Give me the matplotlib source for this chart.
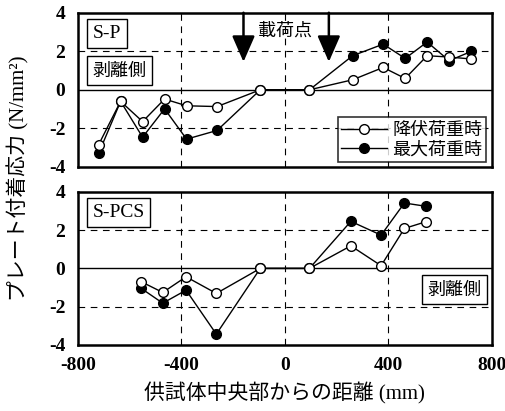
import numpy as np
import matplotlib
matplotlib.use('Agg')
import matplotlib.pyplot as plt

plt.rcParams['font.family'] = ['Liberation Serif', 'Noto Sans CJK JP']
plt.rcParams['axes.unicode_minus'] = False
jp = ['Noto Sans CJK JP', 'DejaVu Sans']
mix = ['Liberation Serif', 'Noto Sans CJK JP']

# S-P panel
x_sp = [-720, -635, -550, -465, -380, -262, -95, 95, 262, 380, 465, 550, 635, 720]
yield_sp = [-2.85, -0.6, -1.65, -0.48, -0.83, -0.87, 0.0, 0.0, 0.52, 1.16, 0.59, 1.77, 1.7, 1.6]
max_sp = [-3.3, -0.6, -2.46, -0.99, -2.56, -2.11, 0.0, 0.0, 1.77, 2.37, 1.63, 2.48, 1.51, 1.99]

# S-PCS panel
x_pcs = [-555, -472, -382, -265, -95, 95, 255, 372, 462, 545]
yield_pcs = [-0.7, -1.26, -0.44, -1.31, 0.0, 0.0, 1.18, 0.14, 2.09, 2.44]
max_pcs = [-1.05, -1.82, -1.14, -3.44, 0.0, 0.0, 2.46, 1.74, 3.42, 3.25]

load_x = [-160, 170]

fig = plt.figure(figsize=(5.06, 4.11), dpi=100)
ax1 = fig.add_axes([0.154, 0.594, 0.818, 0.375])
ax2 = fig.add_axes([0.154, 0.161, 0.818, 0.372])

for ax in (ax1, ax2):
    ax.set_xlim(-800, 800)
    ax.set_ylim(-4, 4)
    ax.set_xticks([-800, -400, 0, 400, 800])
    ax.set_yticks([-4, -2, 0, 2, 4])
    for v in (-400, 0, 400):
        ax.axvline(v, color='k', lw=0.8, ls=(0, (6, 5)), zorder=0)
    for v in (-2, 2):
        ax.axhline(v, color='k', lw=0.8, ls=(0, (6, 5)), zorder=0)
    ax.axhline(0, color='k', lw=1.0, zorder=0)
    for s in ax.spines.values():
        s.set_linewidth(1.8)
    ax.tick_params(length=0, labelsize=14, pad=9)
    for t in ax.get_xticklabels() + ax.get_yticklabels():
        t.set_fontweight('bold')

ax1.tick_params(labelbottom=False)

ax1.plot(x_sp, max_sp, '-o', color='k', mfc='k', mec='k', ms=7, lw=1.0,
         label='最大荷重時', zorder=3)
ax1.plot(x_sp, yield_sp, '-o', color='k', mfc='white', mec='k', ms=7, lw=1.0,
         label='降伏荷重時', zorder=4)
ax2.plot(x_pcs, max_pcs, '-o', color='k', mfc='k', mec='k', ms=7, lw=1.0, zorder=3)
ax2.plot(x_pcs, yield_pcs, '-o', color='k', mfc='white', mec='k', ms=7, lw=1.0, zorder=4)

h, l = ax1.get_legend_handles_labels()
leg = ax1.legend(h[::-1], l[::-1], loc='lower right', bbox_to_anchor=(0.985, 0.03),
                 prop={'family': jp, 'size': 13}, frameon=True, fancybox=False,
                 edgecolor='k', handlelength=2.5, handletextpad=0.3,
                 borderpad=0.2, labelspacing=0.1, borderaxespad=0)
leg.get_frame().set_linewidth(1.2)

box = dict(boxstyle='square,pad=0.3', fc='white', ec='k', lw=1.0)
ax1.text(0.035, 0.865, 'S-P', transform=ax1.transAxes, fontsize=14, va='center', bbox=box)
ax1.text(0.035, 0.625, '剥離側', transform=ax1.transAxes, fontsize=13, va='center',
         family=jp, bbox=box)
ax2.text(0.035, 0.865, 'S-PCS', transform=ax2.transAxes, fontsize=14, va='center', bbox=box)
ax2.text(0.975, 0.36, '剥離側', transform=ax2.transAxes, fontsize=13, va='center',
         ha='right', family=jp, bbox=box)

for lx in load_x:
    ax1.annotate('', xy=(lx, 1.45), xytext=(lx, 4.0),
                 arrowprops=dict(arrowstyle='-|>,head_length=1.6,head_width=0.7',
                                 color='k', lw=1.8, shrinkA=0, shrinkB=0))
ax1.text(0, 3.05, '載荷点', ha='center', va='center', fontsize=13, family=jp)

fig.text(0.036, 0.567, 'プレート付着応力 (N/mm²)', rotation=90, ha='center',
         va='center', fontsize=15, family=mix)
ax2.set_xlabel('供試体中央部からの距離 (mm)', fontsize=15, family=mix, labelpad=6)

fig.savefig('out.png', dpi=100)
